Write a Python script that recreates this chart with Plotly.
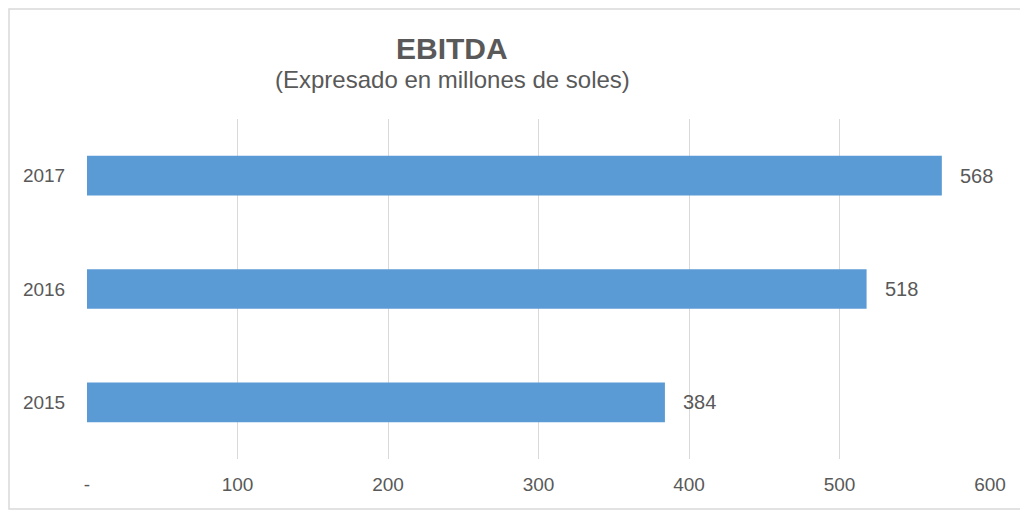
import plotly.graph_objects as go

years = ["2015", "2016", "2017"]
ebitda = [384, 518, 568]
tick_vals = [0, 100, 200, 300, 400, 500, 600]
tick_text = ["-", "100", "200", "300", "400", "500", "600"]
title = "EBITDA"
subtitle = "(Expresado en millones de soles)"

FONT = "Liberation Sans Narrow, Arial Narrow, Liberation Sans, Arial"
GREY = "#595959"

# Page has 8px body margin; figure coordinates = page coords - 8
OFF = 8
W, H = 1028 - OFF, 512 - OFF
PL, PR, PT, PB = 87 - OFF, 990 - OFF, 119 - OFF, 459 - OFF
pw, ph = PR - PL, PB - PT


def px(xp):
    return (xp - OFF - PL) / pw


def py(yp):
    return (PB - (yp - OFF)) / ph


fig = go.Figure()
fig.add_trace(go.Bar(
    y=years, x=ebitda, orientation="h",
    marker=dict(color="#5B9BD5", line=dict(width=0)),
    width=0.35, hoverinfo="skip",
))

annotations = []
for i, v in enumerate(ebitda):
    annotations.append(dict(x=v, y=i, xref="x", yref="y", text=str(v),
                            showarrow=False, xanchor="left", xshift=16,
                            font=dict(family=FONT, size=20, color=GREY)))
annotations.append(dict(text="<b>" + title + "</b>", x=px(452), y=py(48),
                        xref="paper", yref="paper", showarrow=False,
                        xanchor="center", yanchor="middle",
                        font=dict(family=FONT, size=30, color=GREY)))
annotations.append(dict(text=subtitle, x=px(452), y=py(80),
                        xref="paper", yref="paper", showarrow=False,
                        xanchor="center", yanchor="middle",
                        font=dict(family=FONT, size=24, color=GREY)))

fig.update_layout(
    width=W, height=H,
    margin=dict(l=PL, r=W - PR, t=PT, b=H - PB, pad=0),
    plot_bgcolor="white", paper_bgcolor="white",
    showlegend=False,
    annotations=annotations,
    shapes=[dict(type="rect", xref="paper", yref="paper",
                 x0=px(9), x1=px(1021),
                 y0=py(509), y1=py(9),
                 line=dict(color="#D9D9D9", width=1.5), fillcolor="rgba(0,0,0,0)",
                 layer="below")],
)
fig.update_xaxes(range=[0, 600], tickvals=tick_vals, ticktext=tick_text,
                 showgrid=True, gridcolor="#D9D9D9", gridwidth=1,
                 zeroline=False, showline=False, ticks="outside", ticklen=8,
                 tickcolor="rgba(0,0,0,0)",
                 tickfont=dict(family=FONT, size=19, color=GREY))
fig.update_yaxes(type="category", range=[-0.5, 2.5], showgrid=False, zeroline=False,
                 showline=False, ticks="outside", ticklen=17, tickcolor="rgba(0,0,0,0)",
                 tickfont=dict(family=FONT, size=19, color=GREY))

fig.write_html("out.html")
